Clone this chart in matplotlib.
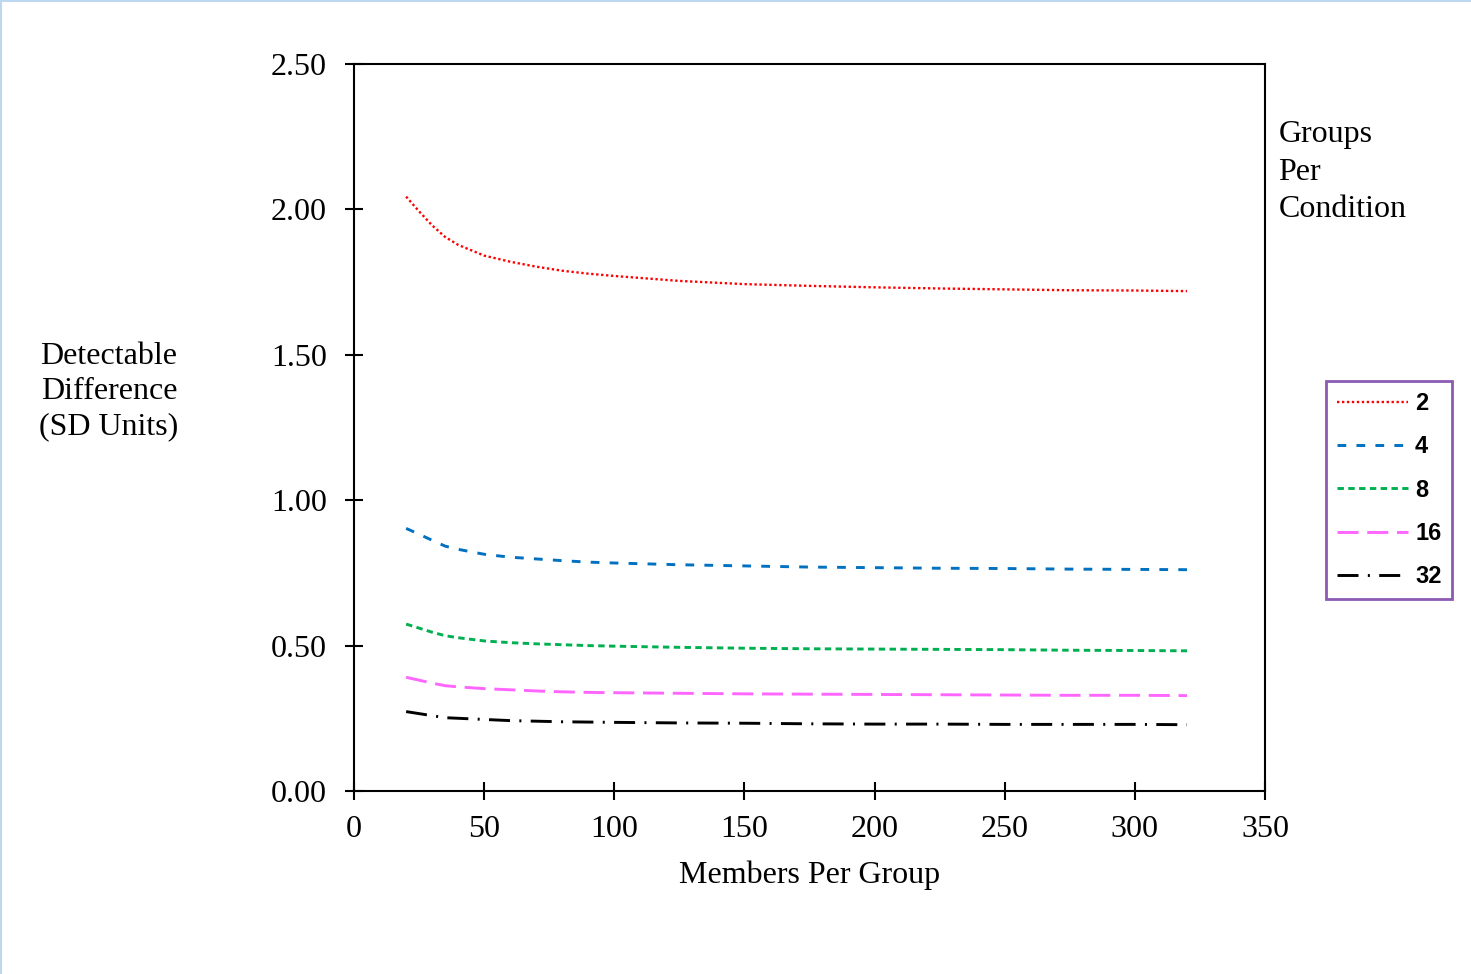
import matplotlib
matplotlib.use('Agg')
import matplotlib.pyplot as plt
from matplotlib.lines import Line2D

# members per group (x) and detectable difference per number of groups per condition
members = [20, 25, 30, 35, 40, 50, 60, 70, 80, 90, 100, 125, 150, 175, 200, 225, 250, 275, 300, 320]
diff_2 = [2.044, 1.993, 1.945, 1.905, 1.878, 1.841, 1.820, 1.803, 1.789, 1.779, 1.771, 1.754,
          1.743, 1.737, 1.732, 1.728, 1.725, 1.722, 1.721, 1.719]
diff_4 = [0.903, 0.883, 0.862, 0.842, 0.831, 0.814, 0.804, 0.798, 0.792, 0.787, 0.784, 0.778,
          0.774, 0.770, 0.768, 0.766, 0.765, 0.763, 0.762, 0.761]
diff_8 = [0.574, 0.560, 0.546, 0.534, 0.527, 0.516, 0.510, 0.506, 0.503, 0.500, 0.498, 0.494,
          0.491, 0.489, 0.488, 0.487, 0.486, 0.484, 0.483, 0.482]
diff_16 = [0.391, 0.381, 0.371, 0.362, 0.358, 0.352, 0.348, 0.344, 0.341, 0.339, 0.338, 0.336,
           0.334, 0.333, 0.332, 0.331, 0.330, 0.329, 0.329, 0.328]
diff_32 = [0.273, 0.266, 0.259, 0.252, 0.250, 0.246, 0.242, 0.240, 0.238, 0.237, 0.236, 0.234,
           0.233, 0.231, 0.230, 0.230, 0.229, 0.229, 0.229, 0.228]

labels = ['2', '4', '8', '16', '32']
series = [diff_2, diff_4, diff_8, diff_16, diff_32]
colors = ['#FF0000', '#0070C0', '#00B050', '#FF66FF', '#000000']
widths = [1.7, 2.1, 2.1, 2.1, 2.1]
styles = [(0, (1, 1.1)), (0, (3, 3.5)), (0, (2.2, 1.5)), (0, (7.2, 3)), (0, (7.2, 3.2, 0.7, 3.2))]

serif = 'Liberation Serif'
fs = 23

fig = plt.figure(figsize=(14.71, 9.74), dpi=100)
ax = fig.add_axes([0.2407, 0.1879, 0.6193, 0.7464])

for y, c, lw, ls, lab in zip(series, colors, widths, styles, labels):
    ax.plot(members, y, color=c, linestyle=ls, linewidth=lw, label=lab)

ax.set_xlim(0, 350)
ax.set_ylim(0, 2.5)
ax.set_xticks(range(0, 351, 50))
yt = [0, 0.5, 1.0, 1.5, 2.0, 2.5]
ax.set_yticks(yt)
ax.set_yticklabels([f'{v:.2f}' for v in yt])
ax.tick_params(direction='inout', length=13, width=1.5, labelsize=fs,
               top=False, right=False)
ax.tick_params(axis='y', pad=13)
ax.tick_params(axis='x', pad=10.5)
for lbl in ax.get_xticklabels() + ax.get_yticklabels():
    lbl.set_fontfamily(serif)
for sp in ax.spines.values():
    sp.set_linewidth(1.5)

ax.set_xlabel('Members Per Group', fontsize=fs, fontfamily=serif, labelpad=12)

fig.text(0.074, 0.598, 'Detectable\nDifference\n(SD Units)', fontsize=fs,
         fontfamily=serif, ha='center', va='center', linespacing=1.28)
fig.text(0.869, 0.877, 'Groups\nPer\nCondition', fontsize=fs,
         fontfamily=serif, ha='left', va='top', linespacing=1.40)

leg = ax.legend(loc='center left', bbox_to_anchor=(1.067, 0.414),
                prop={'family': 'Liberation Sans', 'weight': 'bold', 'size': 17},
                frameon=True, fancybox=False, handlelength=3.0, handletextpad=0.32,
                labelspacing=0.86, borderpad=0.45, borderaxespad=0)
leg.get_frame().set_edgecolor('#7030A0')
leg.get_frame().set_linewidth(2)

# light blue frame at the top and left edges
fig.add_artist(Line2D([0, 1], [0.999, 0.999], color='#BDD7EE', linewidth=1.5, transform=fig.transFigure))
fig.add_artist(Line2D([0.0007, 0.0007], [0, 1], color='#BDD7EE', linewidth=1.5, transform=fig.transFigure))

fig.savefig('out.png', dpi=100)
